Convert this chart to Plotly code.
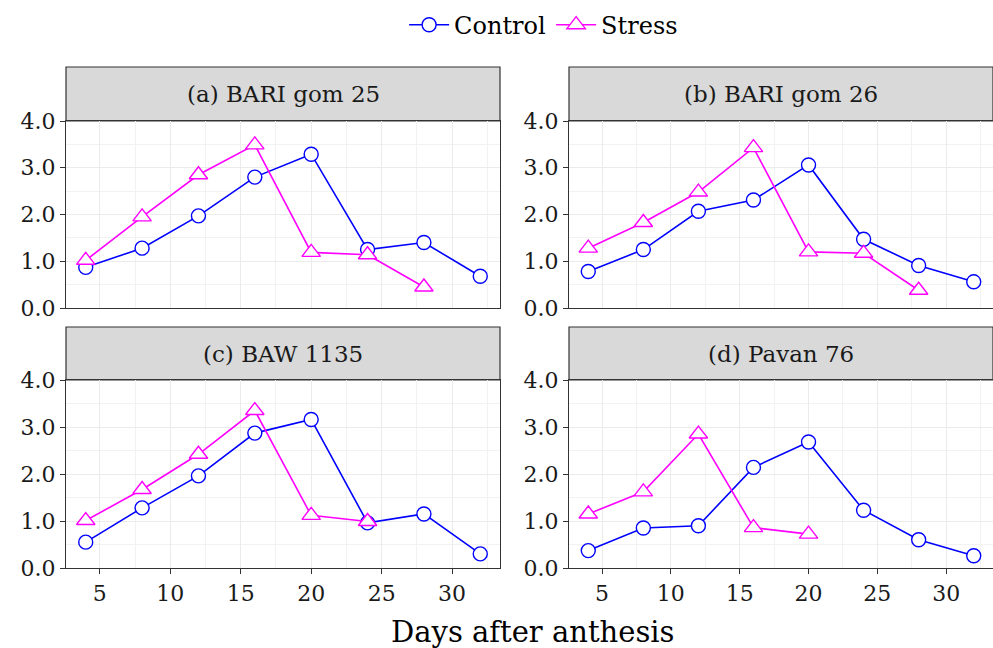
import plotly.graph_objects as go

days = [4, 8, 12, 16, 20, 24, 28, 32]
panels = ["(a) BARI gom 25", "(b) BARI gom 26", "(c) BAW 1135", "(d) Pavan 76"]

control_a = [0.87, 1.28, 1.97, 2.80, 3.29, 1.25, 1.40, 0.68]
stress_a = [1.02, 1.95, 2.85, 3.49, 1.19, 1.14, 0.45]
control_b = [0.78, 1.25, 2.07, 2.31, 3.06, 1.47, 0.91, 0.56]
stress_b = [1.28, 1.83, 2.48, 3.43, 1.20, 1.17, 0.38]
control_c = [0.55, 1.28, 1.96, 2.87, 3.16, 0.96, 1.15, 0.30]
stress_c = [1.01, 1.67, 2.42, 3.35, 1.12, 0.99]
control_d = [0.37, 0.85, 0.90, 2.14, 2.68, 1.23, 0.60, 0.26]
stress_d = [1.15, 1.62, 2.85, 0.86, 0.72]

controls = [control_a, control_b, control_c, control_d]
stresses = [stress_a, stress_b, stress_c, stress_d]

x_ticks = [5, 10, 15, 20, 25, 30]
y_ticks = [0, 1, 2, 3, 4]

W, H = 993, 648
FONT = "DejaVu Serif"
BLUE = "#0000ff"
MAG = "#ff00ff"
DARK = "#333333"
GRID = "#ebebeb"

# panel pixel boxes (left, right, top, bottom) of plotting area
col_x = [(66, 500), (569, 993)]
row_y = [(121, 308), (380, 568)]
strip_y = [(67, 121), (327, 380)]

fig = go.Figure()

for i in range(4):
    r, c = divmod(i, 2)
    ax = "" if i == 0 else str(i + 1)
    xa, ya = "x" + ax, "y" + ax
    fig.add_trace(go.Scatter(
        x=days[:len(controls[i])], y=controls[i], mode="lines+markers",
        name="Control", legendgroup="Control", showlegend=(i == 0),
        line=dict(color=BLUE, width=1.6),
        marker=dict(symbol="circle", size=14, color="white",
                    line=dict(color=BLUE, width=1.4)),
        xaxis=xa, yaxis=ya))
    fig.add_trace(go.Scatter(
        x=days[:len(stresses[i])], y=stresses[i], mode="lines+markers",
        name="Stress", legendgroup="Stress", showlegend=(i == 0),
        line=dict(color=MAG, width=1.6),
        marker=dict(symbol="triangle-up", size=16, color="white",
                    line=dict(color=MAG, width=1.4)),
        xaxis=xa, yaxis=ya))

    x0, x1 = col_x[c]
    yt, yb = row_y[r]
    bottom = (r == 1)
    fig.layout["xaxis" + ax] = dict(
        domain=[x0 / W, x1 / W], anchor=ya, range=[2.6, 33.4], automargin=False,
        tickvals=x_ticks, showticklabels=bottom,
        ticks="outside" if bottom else "", ticklen=5, tickwidth=1.1, tickcolor=DARK,
        showline=True, mirror=True, linecolor=DARK, linewidth=1.2,
        showgrid=True, gridcolor=GRID, gridwidth=1.3,
        minor=dict(dtick=2.5, tick0=2.5, showgrid=True, gridcolor="#f2f2f2", gridwidth=0.7),
        zeroline=False,
        tickfont=dict(family=FONT, size=22, color="#1a1a1a"))
    fig.layout["yaxis" + ax] = dict(
        domain=[1 - yb / H, 1 - yt / H], anchor=xa, range=[0, 4], automargin=False,
        tickvals=y_ticks, tickformat=".1f",
        ticks="outside", ticklen=5, tickwidth=1.1, tickcolor=DARK,
        showline=True, mirror=True, linecolor=DARK, linewidth=1.2,
        showgrid=True, gridcolor=GRID, gridwidth=1.3,
        minor=dict(dtick=0.5, tick0=0.5, showgrid=True, gridcolor="#f2f2f2", gridwidth=0.7),
        zeroline=False,
        tickfont=dict(family=FONT, size=22, color="#1a1a1a"))

    st, sb = strip_y[r]
    fig.add_shape(type="rect", xref="paper", yref="paper",
                  x0=x0 / W, x1=x1 / W, y0=1 - sb / H, y1=1 - st / H,
                  fillcolor="#d9d9d9", line=dict(color=DARK, width=1.2), layer="below")
    fig.add_annotation(text=panels[i], xref="paper", yref="paper",
                       x=(x0 + x1) / 2 / W, y=1 - (st + sb) / 2 / H,
                       xanchor="center", yanchor="middle", showarrow=False,
                       font=dict(family=FONT, size=23, color="#1a1a1a"))

fig.add_annotation(text="Days after anthesis", xref="paper", yref="paper",
                   x=532 / W, y=1 - 632 / H, xanchor="center", yanchor="middle",
                   showarrow=False, font=dict(family=FONT, size=29, color="black"))

fig.update_layout(
    width=W, height=H, margin=dict(l=0, r=0, t=0, b=0, autoexpand=False),
    paper_bgcolor="white", plot_bgcolor="white",
    font=dict(family=FONT),
    legend=dict(orientation="h", x=0.555, xanchor="center", y=0.996, yanchor="top",
                font=dict(family=FONT, size=24, color="black"),
                bgcolor="rgba(0,0,0,0)", itemwidth=40, tracegroupgap=0,
                entrywidth=92, entrywidthmode="pixels"),
)

fig.write_html("out.html")
